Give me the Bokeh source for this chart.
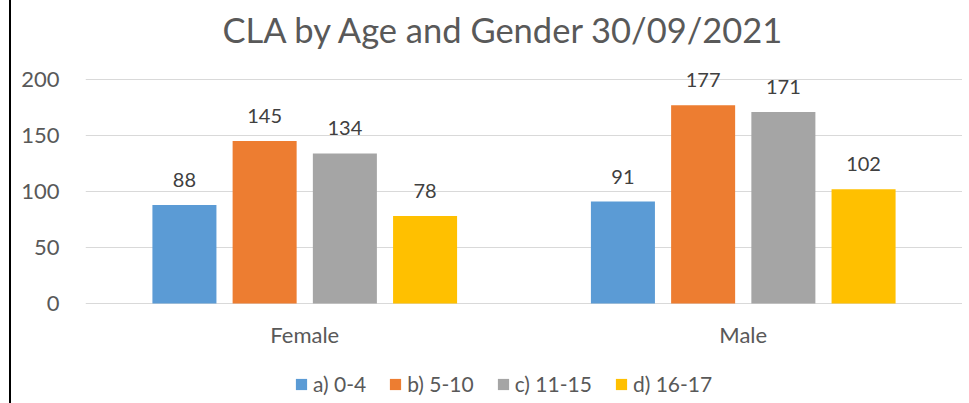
from bokeh.plotting import figure
from bokeh.models import ColumnDataSource, FixedTicker, Legend, LegendItem
from bokeh.transform import dodge
from bokeh.core.properties import value
from bokeh.embed import file_html
from bokeh.resources import INLINE

# ---- data ----
genders = ["Female", "Male"]
age_groups = ["a) 0-4", "b) 5-10", "c) 11-15", "d) 16-17"]
age_0_4 = [88, 91]
age_5_10 = [145, 177]
age_11_15 = [134, 171]
age_16_17 = [78, 102]
y_ticks = [0, 50, 100, 150, 200]

series_values = [age_0_4, age_5_10, age_11_15, age_16_17]
colors = ["#5B9BD5", "#ED7D31", "#A5A5A5", "#FFC000"]
offsets = [-0.2744, -0.0915, 0.0915, 0.2744]
bar_width = 0.146

FONT = "Lato"
TXT = "#595959"

# the frame extends below zero so that the legend (under the category labels) fits inside it
p = figure(
    x_range=genders, y_range=(-89.3, 222.3),
    frame_width=877, frame_height=349,
    output_backend="svg", toolbar_location=None,
    min_border_left=74, min_border_right=0,
    min_border_top=54, min_border_bottom=0,
)
p.title.text = "CLA by Age and Gender 30/09/2021"
p.title.align = "left"
p.title.offset = 137
p.title.text_font = FONT
p.title.text_font_size = "34.5px"
p.title.text_font_style = "normal"
p.title.text_color = TXT
p.title.standoff = 10

p.outline_line_color = None
p.background_fill_color = "white"
p.border_fill_color = "white"

p.xgrid.grid_line_color = None
p.ygrid.grid_line_color = "#D9D9D9"
p.ygrid.grid_line_width = 1
p.yaxis.ticker = FixedTicker(ticks=y_ticks)
for ax in (p.xaxis, p.yaxis):
    ax.axis_line_color = None
    ax.major_tick_line_color = None
    ax.minor_tick_line_color = None
    ax.major_label_text_font = FONT
    ax.major_label_text_font_size = "22px"
    ax.major_label_text_color = TXT
p.yaxis.major_label_standoff = 20
p.xaxis.major_label_standoff = 12
p.xaxis.fixed_location = 0

items = []
for name, vals, col, off in zip(age_groups, series_values, colors, offsets):
    src = ColumnDataSource(dict(gender=genders, val=vals, label=[str(v) for v in vals]))
    r = p.vbar(x=dodge("gender", off, range=p.x_range), top="val", width=bar_width,
               source=src, fill_color=col, line_color=None)
    p.text(x=dodge("gender", off, range=p.x_range), y="val", text="label", source=src,
           text_align="center", text_baseline="middle", y_offset=-25,
           text_font=value(FONT), text_font_size="20px", text_color="#404040")
    items.append(LegendItem(label=name, renderers=[r]))

legend = Legend(items=items, orientation="horizontal", location=(209, 7),
                glyph_width=14, glyph_height=14, label_standoff=5, spacing=22,
                label_text_font=FONT, label_text_font_size="21px", label_text_color=TXT,
                border_line_color=None, background_fill_alpha=0, padding=0, margin=0)
p.add_layout(legend)

p.styles = {"margin-left": "9px", "border-left": "2px solid black"}

open("out.html", "w").write(file_html(p, INLINE))
